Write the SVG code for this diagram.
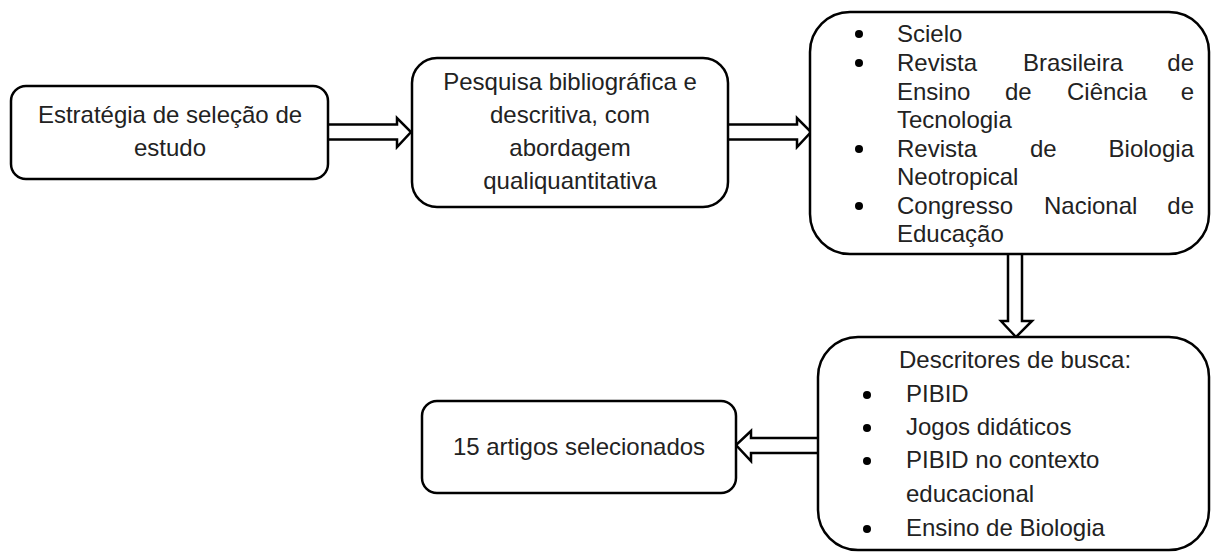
<svg xmlns="http://www.w3.org/2000/svg" width="1211" height="553" viewBox="0 0 1211 553">
<style>
.box{fill:#fff;stroke:#000;stroke-width:2.5}
.arr{fill:#fff;stroke:#000;stroke-width:2.5;stroke-linejoin:miter}
text{font-family:"Liberation Sans",Arial,sans-serif;font-size:24px;fill:#222}
.c{text-anchor:middle}
.e{text-anchor:end}
.dot{fill:#000}
</style>
<rect width="1211" height="553" fill="#fff"/>
<g id="connectors">
<path class="arr" d="M328,124.5 L397,124.5 L397,118 L411,132 L397,147 L397,139.5 L328,139.5"/>
<path class="arr" d="M729,124.5 L797,124.5 L797,118 L811,132 L797,147 L797,139.5 L729,139.5"/>
<path class="arr" d="M1008,254 L1008,321 L1001,321 L1016,337 L1032,321 L1022,321 L1022,254"/>
<path class="arr" d="M817,438 L751,438 L751,431 L736,445 L751,461 L751,453 L817,453"/>
</g>
<g id="n1">
<rect class="box" x="11" y="86" width="317" height="93" rx="15"/>
<text class="c" x="170" y="123">Estratégia de seleção de</text>
<text class="c" x="170" y="156">estudo</text>
</g>
<g id="n2">
<rect class="box" x="412" y="58" width="316" height="149" rx="25"/>
<text class="c" x="570" y="90">Pesquisa bibliográfica e</text>
<text class="c" x="570" y="123">descritiva, com</text>
<text class="c" x="570" y="156">abordagem</text>
<text class="c" x="570" y="189">qualiquantitativa</text>
</g>
<g id="n3">
<rect class="box" x="810" y="12" width="399" height="242" rx="40"/>
<circle class="dot" cx="859" cy="34" r="4"/>
<circle class="dot" cx="859" cy="63" r="4"/>
<circle class="dot" cx="859" cy="149" r="4"/>
<circle class="dot" cx="859" cy="206" r="4"/>
<text x="897" y="42">Scielo</text>
<text x="897" y="71">Revista</text><text x="1023" y="71">Brasileira</text><text class="e" x="1194" y="71">de</text>
<text x="897" y="99.5">Ensino</text><text x="1005" y="99.5">de</text><text x="1067" y="99.5">Ciência</text><text class="e" x="1194" y="99.5">e</text>
<text x="897" y="128">Tecnologia</text>
<text x="897" y="156.5">Revista</text><text x="1030" y="156.5">de</text><text class="e" x="1194" y="156.5">Biologia</text>
<text x="897" y="185">Neotropical</text>
<text x="897" y="213.5">Congresso</text><text x="1044" y="213.5">Nacional</text><text class="e" x="1194" y="213.5">de</text>
<text x="897" y="242">Educação</text>
</g>
<g id="n4">
<rect class="box" x="818" y="337" width="391" height="213" rx="40"/>
<text x="899" y="368">Descritores de busca:</text>
<circle class="dot" cx="867" cy="395" r="4"/>
<circle class="dot" cx="867" cy="428" r="4"/>
<circle class="dot" cx="867" cy="461" r="4"/>
<circle class="dot" cx="867" cy="529" r="4"/>
<text x="906" y="402">PIBID</text>
<text x="906" y="435">Jogos didáticos</text>
<text x="906" y="468">PIBID no contexto</text>
<text x="906" y="502">educacional</text>
<text x="906" y="536">Ensino de Biologia</text>
</g>
<g id="n5">
<rect class="box" x="422" y="401" width="314" height="92" rx="15"/>
<text class="c" x="579" y="455">15 artigos selecionados</text>
</g>
</svg>
